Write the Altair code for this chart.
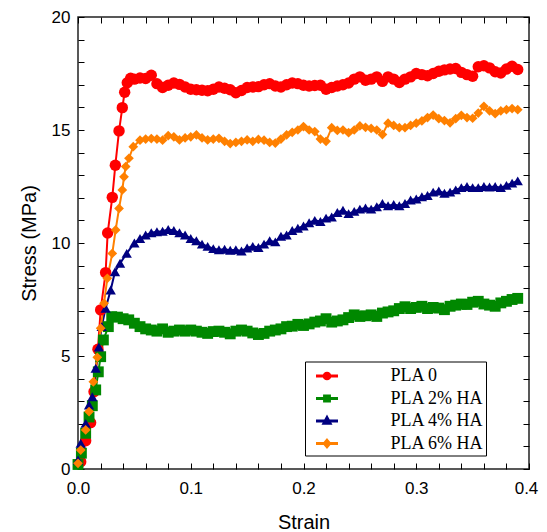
import altair as alt
import pandas as pd

SERIES = ["PLA 0", "PLA 2% HA", "PLA 4% HA", "PLA 6% HA"]
COLORS = ["#ff0000", "#008800", "#000080", "#ff8000"]

X_TICKS = [0.0, 0.02, 0.04, 0.06, 0.08, 0.1, 0.12, 0.14, 0.16, 0.18, 0.2,
           0.22, 0.24, 0.26, 0.28, 0.3, 0.32, 0.34, 0.36, 0.38, 0.4]
Y_TICKS = list(range(0, 21))

# strain grid on which the plateau parts were read
GRID = [0.035, 0.040, 0.045, 0.050, 0.055, 0.060, 0.065, 0.070, 0.075, 0.080,
        0.085, 0.090, 0.095, 0.100, 0.105, 0.110, 0.115, 0.120, 0.125, 0.130,
        0.135, 0.140, 0.145, 0.150, 0.155, 0.160, 0.165, 0.170, 0.175, 0.180,
        0.185, 0.190, 0.195, 0.200, 0.205, 0.210, 0.215, 0.220, 0.225, 0.230,
        0.235, 0.240, 0.245, 0.250, 0.255, 0.260, 0.265, 0.270, 0.275, 0.280,
        0.285, 0.290, 0.295, 0.300, 0.305, 0.310, 0.315, 0.320, 0.325, 0.330,
        0.335, 0.340, 0.345, 0.350, 0.355, 0.360, 0.365, 0.370, 0.375, 0.380,
        0.385, 0.390]

# PLA 0
RED_RISE_X = [0.0024, 0.0068, 0.0112, 0.0142, 0.0177, 0.0201, 0.0245, 0.0263,
              0.0304, 0.0331, 0.0364, 0.0393, 0.0414, 0.0437, 0.0467]
RED_RISE_Y = [0.32, 1.25, 2.05, 3.42, 5.30, 7.04, 8.69, 10.44,
              12.02, 13.44, 14.96, 15.99, 16.67, 17.09, 17.29]
RED_PLATEAU = [17.25, 17.3, 17.28, 17.42, 17.05, 16.88, 16.98, 17.08, 17.02, 16.9,
               16.8, 16.78, 16.76, 16.74, 16.8, 16.9, 16.85, 16.78, 16.65, 16.75,
               16.88, 16.9, 16.92, 17.0, 17.05, 16.95, 16.9, 17.0, 17.08, 17.05,
               16.98, 16.95, 16.97, 16.98, 16.8, 16.88, 16.95, 17.0, 17.08, 17.25,
               17.35, 17.2, 17.25, 17.35, 17.15, 17.35, 17.25, 17.1, 17.25, 17.35,
               17.5, 17.45, 17.4, 17.5, 17.6, 17.66, 17.7, 17.72, 17.55, 17.45,
               17.38, 17.8, 17.84, 17.75, 17.58, 17.52, 17.7, 17.82, 17.68]

# PLA 2% HA
GREEN_RISE_X = [0.0, 0.003, 0.0068, 0.0098, 0.0127, 0.0157, 0.018, 0.0201,
                0.0225, 0.0269, 0.0299]
GREEN_RISE_Y = [0.2, 0.7, 1.58, 2.3, 2.8, 3.5, 4.3, 4.97, 5.71, 6.3, 6.74]
GREEN_PLATEAU = [6.72, 6.65, 6.6, 6.45, 6.3, 6.2, 6.15, 6.1, 6.2, 6.05,
                 6.1, 6.15, 6.1, 6.15, 6.1, 6.05, 6.0, 6.08, 6.1, 6.05,
                 5.98, 6.1, 6.15, 6.1, 6.02, 5.95, 6.0, 6.1, 6.15, 6.2,
                 6.3, 6.32, 6.4, 6.35, 6.42, 6.5, 6.55, 6.65, 6.5, 6.55,
                 6.6, 6.7, 6.82, 6.75, 6.78, 6.82, 6.75, 6.9, 6.95, 7.0,
                 7.1, 7.18, 7.1, 7.15, 7.2, 7.1, 7.15, 7.12, 7.05, 7.2,
                 7.25, 7.3, 7.28, 7.38, 7.42, 7.3, 7.25, 7.2, 7.35, 7.42,
                 7.5, 7.55]

# PLA 4% HA
BLUE_RISE_X = [0.0, 0.0024, 0.0068, 0.0098, 0.0127, 0.0157, 0.0185, 0.021,
               0.0245, 0.029, 0.0328, 0.0373, 0.0432]
BLUE_RISE_Y = [0.4, 1.14, 2.02, 2.83, 3.2, 4.46, 5.4, 6.3, 7.11, 7.92, 8.73,
               9.1, 9.54]
BLUE_PLATEAU = [10.0, 10.2, 10.35, 10.45, 10.5, 10.52, 10.6, 10.55, 10.45, 10.35,
                10.2, 10.1, 9.95, 9.85, 9.75, 9.7, 9.72, 9.68, 9.7, 9.65,
                9.78, 9.85, 9.8, 9.95, 10.1, 10.05, 10.3, 10.35, 10.55, 10.65,
                10.75, 10.9, 11.0, 10.95, 11.1, 11.15, 11.35, 11.45, 11.3, 11.4,
                11.5, 11.55, 11.5, 11.6, 11.75, 11.65, 11.7, 11.65, 11.75, 11.9,
                11.95, 12.05, 12.1, 12.25, 12.3, 12.2, 12.25, 12.35, 12.45, 12.5,
                12.45, 12.45, 12.5, 12.48, 12.5, 12.45, 12.55, 12.65, 12.75]

# PLA 6% HA
ORANGE_RISE_X = [0.0, 0.0024, 0.0068, 0.0098, 0.0136, 0.0171, 0.0201, 0.0231,
                 0.026, 0.0304, 0.0334, 0.0364, 0.0393, 0.0408, 0.0423, 0.0452,
                 0.049]
ORANGE_RISE_Y = [0.25, 0.84, 1.73, 2.54, 3.86, 4.94, 6.23, 7.33, 8.44, 9.54,
                 10.58, 11.53, 12.35, 12.93, 13.38, 13.75, 14.26]
ORANGE_PLATEAU = [14.55, 14.6, 14.62, 14.6, 14.55, 14.75, 14.7, 14.56, 14.65, 14.7,
                  14.78, 14.65, 14.56, 14.6, 14.63, 14.5, 14.4, 14.45, 14.5, 14.56,
                  14.5, 14.58, 14.55, 14.45, 14.42, 14.6, 14.78, 14.9, 15.0, 15.15,
                  15.0, 14.93, 14.6, 14.5, 15.1, 14.98, 15.0, 14.88, 15.0, 15.18,
                  15.12, 15.07, 15.0, 14.8, 15.3, 15.2, 15.1, 15.1, 15.2, 15.3,
                  15.4, 15.55, 15.66, 15.5, 15.42, 15.32, 15.5, 15.65, 15.55, 15.52,
                  15.75, 16.05, 15.85, 15.72, 15.85, 15.9, 15.95, 15.9]

rows = []
idx = 0
for name, rx, ry, plateau in [
    (SERIES[0], RED_RISE_X, RED_RISE_Y, RED_PLATEAU),
    (SERIES[1], GREEN_RISE_X, GREEN_RISE_Y, GREEN_PLATEAU),
    (SERIES[2], BLUE_RISE_X, BLUE_RISE_Y, BLUE_PLATEAU),
    (SERIES[3], ORANGE_RISE_X, ORANGE_RISE_Y, ORANGE_PLATEAU),
]:
    xs = list(rx) + GRID[len(GRID) - len(plateau):]
    ys = list(ry) + list(plateau)
    for x, y in zip(xs, ys):
        rows.append({"series": name, "strain": x, "stress": y, "idx": idx})
        idx += 1
df = pd.DataFrame(rows)

SANS = "Liberation Sans"
SERIF = "Liberation Serif"
W, H = 451, 452

x_scale = alt.Scale(domain=[0, 0.4], nice=False, zero=False, padding=0)
y_scale = alt.Scale(domain=[0, 20], nice=False, zero=False, padding=0)

# legend symbols: short line with a small marker, in a [-1, 1] box
LEGEND_SHAPES = [
    "M-1,0H1M0.26,0A0.26,0.26 0 1 1 -0.26,0A0.26,0.26 0 1 1 0.26,0Z",
    "M-1,0H1M-0.22,-0.22H0.22V0.22H-0.22Z",
    "M-1,0H1M0,-0.3L0.27,0.2H-0.27Z",
    "M-1,0H1M0,-0.28L0.24,0L0,0.28L-0.24,0Z",
]

# inward ticks on all four sides are drawn as grid lines dashed at both ends
x_axis = alt.Axis(values=X_TICKS, title="Strain", orient="bottom",
                  labelExpr="abs(datum.value*10 - round(datum.value*10)) < 0.000001 ? format(datum.value, '.1f') : ''",
                  ticks=False, tickSize=0, domain=False, labelFlush=False,
                  labelOffset={"condition": {"test": "datum.value > 0.39", "value": -3},
                               "value": 0},
                  labelOverlap=False,
                  grid=True, gridColor="black", gridOpacity=1, gridWidth=1,
                  gridDash=[6, H - 12, 6, 2000],
                  labelFont=SANS, labelFontSize=17, labelColor="black",
                  labelPadding=11, titleFont=SANS, titleFontSize=20,
                  titleFontWeight="normal", titleColor="black", titlePadding=16)
y_axis = alt.Axis(values=Y_TICKS, title="Stress (MPa)", orient="left",
                  labelExpr="datum.value % 5 == 0 ? format(datum.value, 'd') : ''",
                  ticks=False, tickSize=0, domain=False, labelFlush=False,
                  labelOverlap=False,
                  grid=True, gridColor="black", gridOpacity=1, gridWidth=1,
                  gridDash=[6, W - 12, 6, 2000],
                  labelFont=SANS, labelFontSize=17, labelColor="black",
                  labelPadding=8, titleFont=SANS, titleFontSize=20,
                  titleFontWeight="normal", titleColor="black", titlePadding=12)

color_scale = alt.Scale(domain=SERIES, range=COLORS)
X = alt.X("strain:Q", scale=x_scale, axis=x_axis)
Y = alt.Y("stress:Q", scale=y_scale, axis=y_axis)

lines = alt.Chart(df).mark_line(strokeWidth=2).encode(
    x=X, y=Y,
    color=alt.Color("series:N", scale=color_scale, legend=None),
    order=alt.Order("idx:Q"),
)

points = alt.Chart(df).mark_point(filled=True, opacity=1).encode(
    x=X, y=Y,
    color=alt.Color("series:N", scale=color_scale, legend=None),
    shape=alt.Shape("series:N", scale=alt.Scale(domain=SERIES,
                    range=["circle", "square", "triangle-up", "diamond"]), legend=None),
    size=alt.Size("series:N", scale=alt.Scale(domain=SERIES, range=[130, 95, 140, 150]),
                  legend=None),
    order=alt.Order("idx:Q"),
)

leg = alt.Legend(title=None, orient="none", legendX=227, legendY=344.5,
                 strokeColor="black", fillColor="white", padding=2,
                 rowPadding=0.5, symbolOffset=7.5, labelOffset=51, symbolSize=484,
                 symbolStrokeWidth=3, labelFont=SERIF, labelFontSize=18,
                 labelColor="black", labelLimit=400,
                 labelExpr="datum.label + '          '")

legend_layer = alt.Chart(df).transform_filter("datum.strain < 0").mark_point(
    filled=True, opacity=1, strokeWidth=3
).encode(
    x=X, y=Y,
    fill=alt.Fill("series:N", scale=color_scale, legend=leg),
    stroke=alt.Stroke("series:N", scale=color_scale, legend=leg),
    shape=alt.Shape("series:N", scale=alt.Scale(domain=SERIES, range=LEGEND_SHAPES),
                    legend=leg),
)

chart = alt.layer(lines, points, legend_layer).resolve_scale(
    color="independent", shape="independent", fill="independent",
    stroke="independent", size="independent"
).properties(
    width=W, height=H,
    autosize=alt.AutoSizeParams(type="none"),
    padding={"left": 70, "top": 9, "right": 10, "bottom": 62},
).configure_view(
    stroke="#222", strokeWidth=1.5
)

chart.save("out.html", embed_options={"renderer": "svg", "actions": False})
